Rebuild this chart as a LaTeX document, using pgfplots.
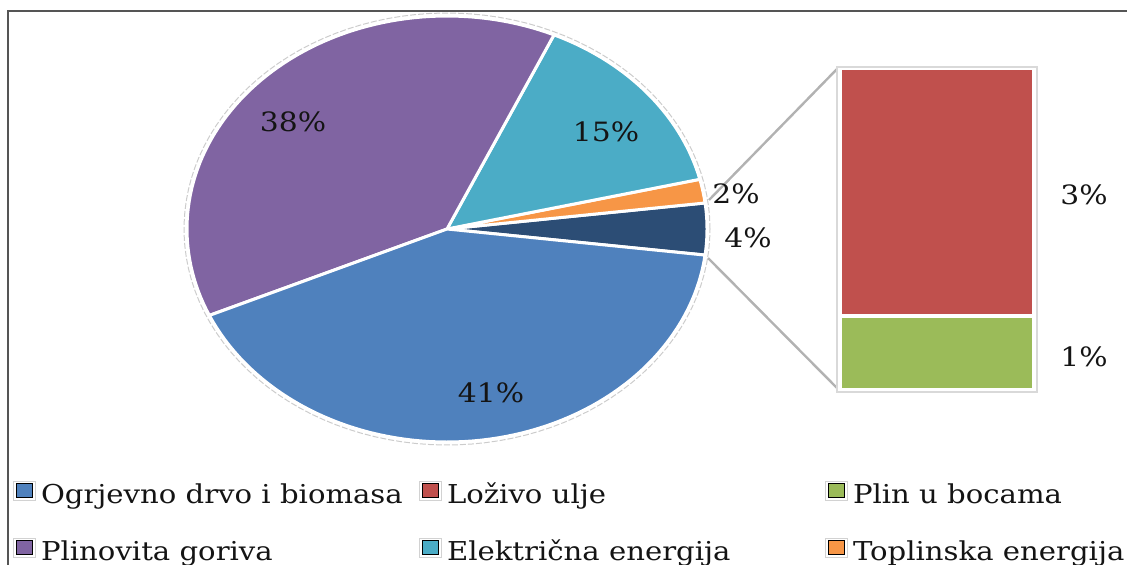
\documentclass[border=0pt]{standalone}
\usepackage{fontspec}
\setmainfont[FakeStretch=1.12]{DejaVu Serif}
\usepackage{pgfplots}
\pgfplotsset{compat=1.18}
\usepackage{pgfplotstable}

\definecolor{cBlue}{HTML}{4F81BD}
\definecolor{cPurple}{HTML}{8064A2}
\definecolor{cCyan}{HTML}{4BACC6}
\definecolor{cOrange}{HTML}{F79646}
\definecolor{cNavy}{HTML}{2C4D75}
\definecolor{cRed}{HTML}{C0504D}
\definecolor{cGreen}{HTML}{9BBB59}
\definecolor{txt}{HTML}{141414}
\definecolor{frame}{HTML}{555555}

\tikzset{lbl/.style={font=\fontsize{13.3pt}{16pt}\selectfont, text=txt, inner sep=0pt, anchor=center}}

% shares in percent
\pgfplotstableread{
name        pct
Drvo        41.4
Plinovita   38.4
Elektricna  14.5
Toplinska   1.8
Lozivo      3.0
Boce        0.9
}\shares

\newcommand\pieslice[3]{%
  \addplot[fill=#1, draw=white, line width=1.5pt, line join=round,
           domain=#2:#3, samples=80, forget plot]
    ({447+260*cos(x)},{335+213*sin(x)}) -- (axis cs:447,335) -- cycle;}

\newcommand\lab[1]{\makebox[186.5pt][l]{\rule[-4pt]{0pt}{18pt}#1}}

\begin{document}
\begin{tikzpicture}[x=0.5pt,y=0.5pt]
\useasboundingbox (0,0) rectangle (1127,564);
\clip (0,0) rectangle (1127,564);

\pgfplotstablegetelem{0}{pct}\of\shares \let\pDrvo\pgfplotsretval
\pgfplotstablegetelem{1}{pct}\of\shares \let\pPlin\pgfplotsretval
\pgfplotstablegetelem{2}{pct}\of\shares \let\pEl\pgfplotsretval
\pgfplotstablegetelem{3}{pct}\of\shares \let\pTop\pgfplotsretval
\pgfplotstablegetelem{4}{pct}\of\shares \let\pLoz\pgfplotsretval
\pgfplotstablegetelem{5}{pct}\of\shares \let\pBoc\pgfplotsretval
\pgfmathsetmacro\pOst{\pLoz+\pBoc}
\pgfmathsetmacro\aA{-1.8*\pOst}
\pgfmathsetmacro\aB{\aA+3.6*\pOst}
\pgfmathsetmacro\aC{\aB+3.6*\pTop}
\pgfmathsetmacro\aD{\aC+3.6*\pEl}
\pgfmathsetmacro\aE{\aD+3.6*\pPlin}
\pgfmathsetmacro\aF{\aE+3.6*\pDrvo}

\begin{axis}[
  at={(0pt,0pt)}, anchor=south west,
  width=563.5pt, height=282pt, scale only axis,
  xmin=0, xmax=1127, ymin=0, ymax=564,
  hide axis, clip=false,
  legend columns=3,
  legend cell align=left,
  legend style={at={(0.01153,0.1578)}, anchor=north west, draw=none, fill=none,
    inner sep=0pt, outer sep=0pt, row sep=13pt, column sep=0pt,
    font=\fontsize{13pt}{16pt}\selectfont,
    nodes={inner xsep=2.5pt, inner ysep=0pt, text=txt}},
  legend image code/.code={%
    \draw[draw=gray!35, line width=0.5pt, fill=white] (0pt,-4.75pt) rectangle (11pt,4.75pt);
    \fill[#1] (1.5pt,-3.4pt) rectangle (9.5pt,3.4pt);},
]
% faint outline
\addplot[gray!40, line width=0.5pt, dash pattern=on 3pt off 1pt, domain=0:360, samples=120, forget plot]
  ({447+263*cos(x)},{335+216*sin(x)});
% pie
\pieslice{cNavy}{\aA}{\aB}
\pieslice{cOrange}{\aB}{\aC}
\pieslice{cCyan}{\aC}{\aD}
\pieslice{cPurple}{\aD}{\aE}
\pieslice{cBlue}{\aE}{\aF}
% connectors
\addplot[color=gray!60, line width=1.2pt, forget plot] coordinates {(709,364) (837,495)};
\addplot[color=gray!60, line width=1.2pt, forget plot] coordinates {(708,306) (837,176)};
% bar frame
\draw[gray!30, line width=0.75pt] (axis cs:837,172) rectangle (axis cs:1037,497);
% labels
\node[lbl] at (axis cs:293,442) {38\%};
\node[lbl] at (axis cs:606,432) {15\%};
\node[lbl] at (axis cs:736,370) {2\%};
\node[lbl] at (axis cs:748,326) {4\%};
\node[lbl] at (axis cs:491,171) {41\%};
\node[lbl] at (axis cs:1084,369) {3\%};
\node[lbl] at (axis cs:1084,207) {1\%};
% legend
\addlegendimage{fill=cBlue}   \addlegendentry{\lab{Ogrjevno drvo i biomasa}}
\addlegendimage{fill=cRed}    \addlegendentry{\lab{Loživo ulje}}
\addlegendimage{fill=cGreen}  \addlegendentry{\lab{Plin u bocama}}
\addlegendimage{fill=cPurple} \addlegendentry{\lab{Plinovita goriva}}
\addlegendimage{fill=cCyan}   \addlegendentry{\lab{Električna energija}}
\addlegendimage{fill=cOrange} \addlegendentry{\lab{Toplinska energija}}
\end{axis}

\begin{axis}[
  at={(420pt,87pt)}, anchor=south west,
  width=97pt, height=161pt, scale only axis,
  xmin=0, xmax=1, ymin=0, ymax=3.9,
  hide axis, ybar stacked, bar width=97pt, enlargelimits=false,
]
\addplot[fill=cGreen, draw=white, line width=2pt] coordinates {(0.5,0.9)};
\addplot[fill=cRed, draw=white, line width=2pt] coordinates {(0.5,3.0)};
\end{axis}

\draw[frame, line width=1pt] (8,-5) -- (8,553.5) -- (1140,553.5);
\end{tikzpicture}
\end{document}
